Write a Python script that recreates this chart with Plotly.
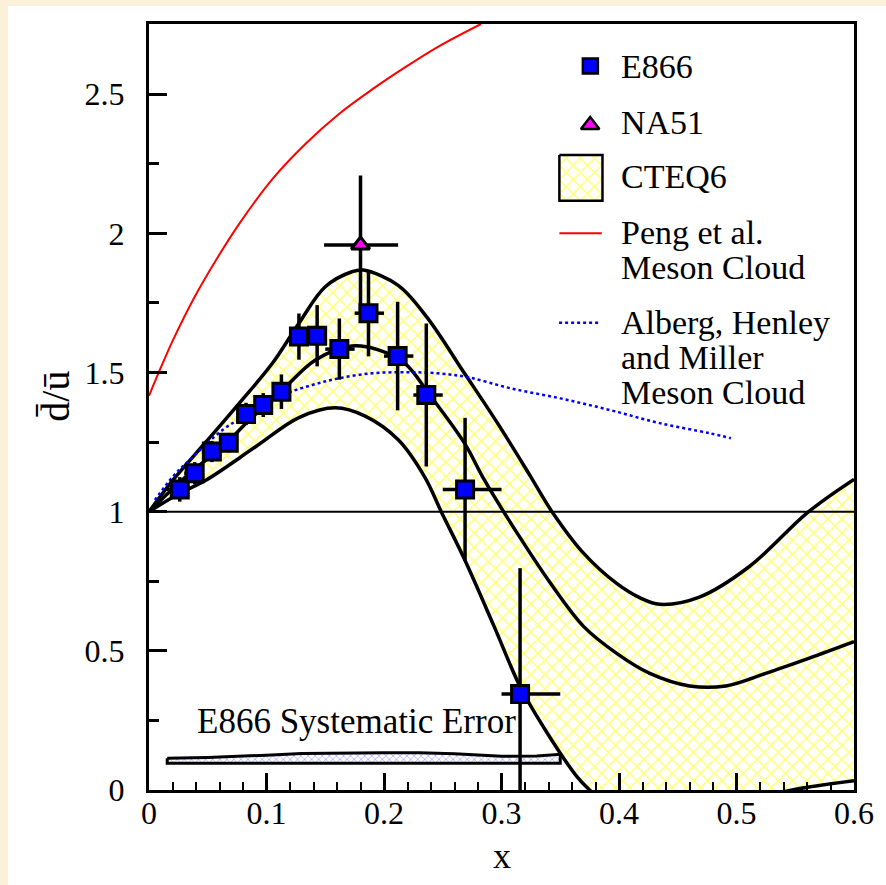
import plotly.graph_objects as go

# ---------------- data ----------------
e866_x = [0.0262, 0.0389, 0.0535, 0.0679, 0.0826, 0.0972, 0.1127, 0.1276, 0.1431,
          0.1620, 0.1868, 0.2116, 0.2360, 0.2690, 0.3158]
e866_y = [1.080, 1.138, 1.216, 1.248, 1.351, 1.383, 1.431, 1.629, 1.632,
          1.584, 1.713, 1.559, 1.419, 1.080, 0.345]
e866_err = [0.044, 0.040, 0.038, 0.035, 0.040, 0.043, 0.062, 0.083, 0.110,
            0.110, 0.155, 0.195, 0.257, 0.257, 0.452]
e866_bin_lo = [0.015, 0.030, 0.045, 0.060, 0.075, 0.090, 0.105, 0.120, 0.135,
               0.150, 0.175, 0.200, 0.225, 0.250, 0.300]
e866_bin_hi = [0.030, 0.045, 0.060, 0.075, 0.090, 0.105, 0.120, 0.135, 0.150,
               0.175, 0.200, 0.225, 0.250, 0.300, 0.350]

na51_x = [0.180]
na51_y = [1.958]
na51_err = [0.250]
na51_bin_lo = [0.149]
na51_bin_hi = [0.212]

cteq_upper_x = [0.0, 0.0205, 0.0488, 0.0769, 0.105, 0.1276, 0.150, 0.1727, 0.1825,
                0.2121, 0.2366, 0.2685, 0.2966, 0.3248, 0.3430, 0.370, 0.398, 0.418,
                0.4346, 0.4684, 0.5107, 0.5614, 0.600]
cteq_upper_y = [1.0, 1.114, 1.252, 1.390, 1.533, 1.677, 1.808, 1.862, 1.868,
                1.813, 1.698, 1.497, 1.318, 1.126, 1.0, 0.850, 0.742, 0.690,
                0.667, 0.693, 0.802, 1.0, 1.116]

cteq_central_x = [0.0, 0.0346, 0.0628, 0.0854, 0.1135, 0.1417, 0.1727, 0.1952, 0.2178,
                  0.239, 0.2685, 0.2854, 0.3135, 0.3417, 0.370, 0.398, 0.4262, 0.46,
                  0.491, 0.5248, 0.5614, 0.600]
cteq_central_y = [1.0, 1.138, 1.234, 1.329, 1.437, 1.545, 1.595, 1.581, 1.533,
                  1.419, 1.246, 1.114, 0.922, 0.743, 0.587, 0.491, 0.419, 0.374,
                  0.374, 0.419, 0.473, 0.533]

cteq_lower_x = [0.0, 0.0262, 0.0488, 0.091, 0.1276, 0.1586, 0.184, 0.2121, 0.2347,
                0.2487, 0.2685, 0.2938, 0.3160, 0.3389, 0.3642, 0.3750, 0.40, 0.44,
                0.48, 0.52, 0.5475, 0.600]
cteq_lower_y = [1.0, 1.066, 1.114, 1.234, 1.338, 1.373, 1.343, 1.258, 1.124,
                1.0, 0.829, 0.587, 0.370, 0.205, 0.048, 0.0, -0.09, -0.12,
                -0.09, -0.03, 0.0, 0.033]

peng_x = [0.0, 0.0093, 0.0205, 0.0380, 0.0572, 0.0769, 0.105, 0.1333, 0.1614,
          0.1896, 0.2178, 0.2459, 0.2825]
peng_y = [1.416, 1.510, 1.617, 1.765, 1.905, 2.035, 2.195, 2.322, 2.428,
          2.516, 2.596, 2.670, 2.752]

ahm_x = [0.005, 0.0203, 0.0346, 0.0628, 0.0854, 0.1135, 0.1389, 0.1614, 0.1896,
         0.2178, 0.2459, 0.2713, 0.3079, 0.3501, 0.3924, 0.4346, 0.4769, 0.4952]
ahm_y = [1.042, 1.126, 1.186, 1.294, 1.353, 1.419, 1.455, 1.479, 1.497,
         1.501, 1.497, 1.483, 1.443, 1.407, 1.365, 1.318, 1.282, 1.264]

sys_x = [0.0155, 0.05, 0.10, 0.13, 0.20, 0.23, 0.26, 0.30, 0.33, 0.35]
sys_top = [0.114, 0.117, 0.125, 0.131, 0.134, 0.134, 0.130, 0.121, 0.122, 0.128]
sys_base = 0.096

unity = 1.0
x_range = [0.0, 0.6]
y_range = [0.0, 2.752]

legend_labels = ["E866", "NA51", "CTEQ6", "Peng et al.", "Meson Cloud",
                 "Alberg, Henley", "and Miller", "Meson Cloud"]
sys_label = "E866 Systematic Error"
x_title = "x"
y_title = "d\u0304/\u016b"

# ---------------- layout geometry (page pixels) ----------------
PAGE_W, PAGE_H = 886, 885
OX, OY = 8, 6                      # white chart sheet offset on the cream page
W, H = PAGE_W - OX, PAGE_H - OY    # figure size
PL, PR, PT, PB = 149, 859, 24, 790 # plot frame in page pixels
FONT = "Liberation Serif, Times New Roman, serif"


def fx(px):
    return (px - PL) / (PR - PL)


def fy(py):
    return (PB - py) / (PB - PT)


BLUE = "#0000FF"
MAGENTA = "#FF00FF"
YELLOW = "#FFFF00"
CREAM = "#FBF0DA"
SPL = dict(shape="spline", smoothing=1.0)

fig = go.Figure()

# systematic error band
fig.add_trace(go.Scatter(
    x=sys_x + sys_x[::-1] + [sys_x[0]],
    y=sys_top + [sys_base] * len(sys_x) + [sys_top[0]],
    mode="lines", fill="toself",
    fillpattern=dict(shape="x", fgcolor=BLUE, bgcolor="white", size=5, solidity=0.2),
    line=dict(color="black", width=3),
    hoverinfo="skip"))

# CTEQ6 band
fig.add_trace(go.Scatter(
    x=cteq_lower_x, y=cteq_lower_y, mode="lines",
    line=dict(color="black", width=3.5, **SPL)))
fig.add_trace(go.Scatter(
    x=cteq_upper_x, y=cteq_upper_y, mode="lines", fill="tonexty",
    fillpattern=dict(shape="x", fgcolor=YELLOW, bgcolor="white", size=10, solidity=0.3),
    line=dict(color="black", width=3.5, **SPL)))
fig.add_trace(go.Scatter(
    x=cteq_central_x, y=cteq_central_y, mode="lines",
    line=dict(color="black", width=3.5, **SPL)))

# unity line
fig.add_trace(go.Scatter(
    x=x_range, y=[unity, unity], mode="lines",
    line=dict(color="black", width=2)))

# Peng et al. meson cloud
fig.add_trace(go.Scatter(
    x=peng_x, y=peng_y, mode="lines",
    line=dict(color="red", width=2, **SPL)))

# Alberg, Henley and Miller
fig.add_trace(go.Scatter(
    x=ahm_x, y=ahm_y, mode="lines",
    line=dict(color=BLUE, width=2.5, dash="dot", **SPL)))

# NA51
fig.add_trace(go.Scatter(
    x=na51_x, y=na51_y, mode="markers",
    marker=dict(symbol="triangle-up", size=16, color=MAGENTA,
                line=dict(color="black", width=3)),
    error_y=dict(type="data", array=na51_err, color="black", thickness=3.5, width=0),
    error_x=dict(type="data", symmetric=False,
                 array=[h - x for h, x in zip(na51_bin_hi, na51_x)],
                 arrayminus=[x - l for l, x in zip(na51_bin_lo, na51_x)],
                 color="black", thickness=3.5, width=0)))

# E866
fig.add_trace(go.Scatter(
    x=e866_x, y=e866_y, mode="markers",
    marker=dict(symbol="square", size=17, color=BLUE,
                line=dict(color="black", width=3)),
    error_y=dict(type="data", array=e866_err, color="black", thickness=3.5, width=0),
    error_x=dict(type="data", symmetric=False,
                 array=[h - x for h, x in zip(e866_bin_hi, e866_x)],
                 arrayminus=[x - l for l, x in zip(e866_bin_lo, e866_x)],
                 color="black", thickness=3.5, width=0)))

# ---------------- legend glyphs (overlay axes in plot-fraction units) ----------------
leg = dict(xaxis="x2", yaxis="y2", hoverinfo="skip")
fig.add_trace(go.Scatter(
    x=[fx(593.5)], y=[fy(66)], mode="markers",
    marker=dict(symbol="square", size=15, color=BLUE, line=dict(color="black", width=2.5)),
    **leg))
fig.add_trace(go.Scatter(
    x=[fx(593.3)], y=[fy(125)], mode="markers",
    marker=dict(symbol="triangle-up", size=16, color=MAGENTA, line=dict(color="black", width=2.5)),
    **leg))
bx0, bx1, by0, by1 = 562.3, 605.7, 155, 200.7
fig.add_trace(go.Scatter(
    x=[fx(bx0), fx(bx1), fx(bx1), fx(bx0), fx(bx0)],
    y=[fy(by0), fy(by0), fy(by1), fy(by1), fy(by0)],
    mode="lines", fill="toself",
    fillpattern=dict(shape="x", fgcolor=YELLOW, bgcolor="white", size=10, solidity=0.3),
    line=dict(color="black", width=2.5), **leg))
fig.add_trace(go.Scatter(
    x=[fx(562.3), fx(605)], y=[fy(233.3), fy(233.3)], mode="lines",
    line=dict(color="red", width=2), **leg))
fig.add_trace(go.Scatter(
    x=[fx(562), fx(603)], y=[fy(322.7), fy(322.7)], mode="lines",
    line=dict(color=BLUE, width=2.5, dash="dot"), **leg))

annotations = []
legend_text_y = [66.7, 122.8, 176.7, 232.8, 267.5, 322.2, 357.0, 392.2]
for txt, yc in zip(legend_labels, legend_text_y):
    annotations.append(dict(
        text=txt, xref="paper", yref="paper", x=fx(622), y=fy(yc),
        xanchor="left", yanchor="middle", showarrow=False,
        font=dict(family=FONT, size=34, color="black")))

annotations.append(dict(
    text=sys_label, xref="x", yref="y", x=0.0389, y=0.247,
    xanchor="left", yanchor="middle", showarrow=False,
    font=dict(family=FONT, size=35, color="black")))

annotations.append(dict(
    text=x_title, xref="paper", yref="paper", x=fx(505), y=fy(856),
    xanchor="center", yanchor="middle", showarrow=False,
    font=dict(family=FONT, size=36, color="black")))

annotations.append(dict(
    text=y_title, xref="paper", yref="paper", x=fx(54), y=fy(396),
    xanchor="center", yanchor="middle", showarrow=False, textangle=-90,
    font=dict(family=FONT, size=40, color="black")))

axis_common = dict(
    showline=True, linecolor="black", linewidth=3, mirror=True,
    showgrid=False, zeroline=False, ticks="inside", tickcolor="black",
    tickwidth=2.5, tickfont=dict(family=FONT, size=32, color="black"))

fig.update_layout(
    width=W, height=H,
    margin=dict(l=PL - OX, r=PAGE_W - PR, t=PT - OY, b=PAGE_H - PB, pad=0),
    paper_bgcolor="white", plot_bgcolor="white",
    showlegend=False,
    font=dict(family=FONT, size=32, color="black"),
    xaxis=dict(range=x_range, tick0=0, dtick=0.1, ticklen=17,
               ticklabelstandoff=-7,
               minor=dict(dtick=0.02, ticks="inside", ticklen=8, tickwidth=2,
                          tickcolor="black"),
               **axis_common),
    yaxis=dict(range=y_range, tick0=0, dtick=0.5, ticklen=18,
               ticklabelstandoff=15,
               minor=dict(dtick=0.25, ticks="inside", ticklen=10, tickwidth=2.5,
                          tickcolor="black"),
               **axis_common),
    xaxis2=dict(overlaying="x", range=[0, 1], visible=False, fixedrange=True),
    yaxis2=dict(overlaying="y", range=[0, 1], visible=False, fixedrange=True),
    annotations=annotations,
)

page_css = (
    "document.documentElement.style.background='%s';"
    "document.body.style.background='%s';"
    "document.body.style.margin='%dpx 0 0 %dpx';"
    "document.body.style.overflow='hidden';" % (CREAM, CREAM, OY, OX)
)

fig.write_html("out.html", post_script=page_css)
